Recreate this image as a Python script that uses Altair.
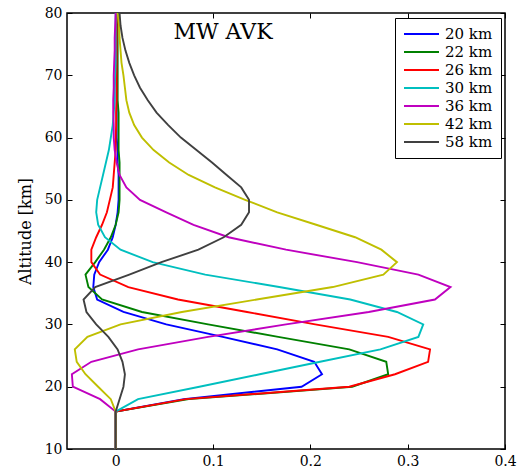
import altair as alt
import pandas as pd

# ---------------- data ----------------
altitude = [10, 12, 14, 16, 18, 20, 22, 24, 26, 28, 30, 32, 34, 36, 38, 40, 42, 44,
            46, 48, 50, 52, 54, 56, 58, 60, 62, 64, 66, 68, 70, 72, 74, 76, 78, 80]

series_names = ["20 km", "22 km", "26 km", "30 km", "36 km", "42 km", "58 km"]
series_colors = ["#0000FF", "#008000", "#FF0000", "#00BFBF", "#BF00BF", "#BFBF00", "#404040"]

avk_20 = [0, 0, 0, 0, 0.070, 0.191, 0.212, 0.204, 0.166, 0.110, 0.052, 0.008, -0.019,
          -0.023, -0.022, -0.017, -0.008, -0.003, 0.000, 0.002, 0.003, 0.003, 0.003,
          0.002, 0.002, 0.001, 0.001, 0.001, 0.001, 0.001, 0.0005, 0.0005, 0.0005,
          0.0005, 0.0005, 0.0005]
avk_22 = [0, 0, 0, 0, 0.075, 0.243, 0.280, 0.278, 0.240, 0.167, 0.095, 0.027, -0.014,
          -0.028, -0.031, -0.021, -0.012, -0.005, 0.000, 0.003, 0.004, 0.004, 0.004,
          0.004, 0.003, 0.003, 0.003, 0.003, 0.002, 0.002, 0.002, 0.002, 0.002, 0.002,
          0.002, 0.002]
avk_26 = [0, 0, 0, 0, 0.072, 0.240, 0.287, 0.321, 0.323, 0.280, 0.205, 0.135, 0.064,
          0.013, -0.016, -0.025, -0.025, -0.020, -0.014, -0.009, -0.006, -0.003, -0.002,
          -0.001, 0.000, 0.000, 0.0005, 0.0005, 0.001, 0.001, 0.001, 0.001, 0.001, 0.001,
          0.001, 0.001]
avk_30 = [0, 0, 0, 0, 0.023, 0.086, 0.148, 0.210, 0.272, 0.311, 0.316, 0.289, 0.241,
          0.168, 0.092, 0.038, 0.005, -0.011, -0.018, -0.020, -0.019, -0.016, -0.013,
          -0.010, -0.007, -0.005, -0.003, -0.002, -0.001, -0.001, -0.0005, 0, 0, 0, 0, 0]
avk_36 = [0, 0, 0, 0, -0.016, -0.044, -0.045, -0.025, 0.023, 0.095, 0.175, 0.260, 0.328,
          0.344, 0.311, 0.248, 0.175, 0.116, 0.080, 0.052, 0.025, 0.011, 0.004, 0.001,
          -0.001, -0.002, -0.002, -0.0025, -0.0025, -0.002, -0.002, -0.0015, -0.001,
          -0.001, -0.0005, 0]
avk_42 = [0, 0, 0, 0, -0.005, -0.018, -0.031, -0.040, -0.042, -0.029, 0.005, 0.068, 0.145,
          0.223, 0.275, 0.289, 0.273, 0.246, 0.206, 0.166, 0.133, 0.102, 0.075, 0.055,
          0.039, 0.027, 0.019, 0.014, 0.011, 0.0095, 0.008, 0.006, 0.005, 0.004, 0.0035,
          0.002]
avk_58 = [0, 0, 0, 0, 0.004, 0.008, 0.0095, 0.007, 0.002, -0.0075, -0.020, -0.030, -0.033,
          -0.021, 0.014, 0.047, 0.085, 0.111, 0.129, 0.137, 0.137, 0.129, 0.114, 0.099,
          0.083, 0.067, 0.054, 0.042, 0.033, 0.025, 0.019, 0.014, 0.010, 0.007, 0.005,
          0.004]

x_ticks = [0, 0.1, 0.2, 0.3, 0.4]
y_ticks = [10, 20, 30, 40, 50, 60, 70, 80]
plot_title = ["MW AVK"]

rows = []
for name, vals in zip(series_names, [avk_20, avk_22, avk_26, avk_30, avk_36, avk_42, avk_58]):
    for a, v in zip(altitude, vals):
        rows.append({"series": name, "alt": a, "avk": v})
df = pd.DataFrame(rows)

W, H = 438, 436
FONT = "DejaVu Serif"

lines = alt.Chart(df).mark_line(strokeWidth=1.9).encode(
    x=alt.X("avk:Q",
            scale=alt.Scale(domain=[-0.05, 0.4], nice=False, zero=False),
            axis=alt.Axis(values=x_ticks, format="~g", title=None, ticks=False, tickSize=0,
                          labelPadding=5, grid=True, gridDash=[5, H - 10],
                          gridColor="black", gridOpacity=1, gridWidth=1,
                          domain=False, labelFlush=False)),
    y=alt.Y("alt:Q",
            scale=alt.Scale(domain=[10, 80], nice=False, zero=False),
            axis=alt.Axis(values=y_ticks, title="Altitude [km]", ticks=False, tickSize=0,
                          labelPadding=5, grid=True, gridDash=[5, W - 10],
                          gridColor="black", gridOpacity=1, gridWidth=1,
                          domain=False, labelFlush=False, titlePadding=11)),
    color=alt.Color("series:N",
                    scale=alt.Scale(domain=series_names, range=series_colors),
                    legend=alt.Legend(orient="none", legendX=328, legendY=5, title=None,
                                      symbolType="stroke", symbolSize=1225,
                                      symbolStrokeWidth=1.9, labelFont=FONT,
                                      labelFontSize=15, labelColor="black",
                                      strokeColor="black", fillColor="white",
                                      padding=8, rowPadding=2, clipHeight=16,
                                      labelOffset=5, labelLimit=200)),
    order=alt.Order("alt:Q"),
)

title = alt.Chart(pd.DataFrame({"t": plot_title})).mark_text(
    font=FONT, fontSize=22, align="center", baseline="middle", color="black"
).encode(x=alt.value(156), y=alt.value(19), text="t:N")

chart = alt.layer(lines, title).properties(
    width=W, height=H,
    padding={"left": 67, "top": 13, "right": 13, "bottom": 21},
    autosize=alt.AutoSizeParams(type="none"),
).configure_view(
    stroke="black", strokeWidth=1.5
).configure_axis(
    labelFont=FONT, labelFontSize=14, labelColor="black",
    titleFont=FONT, titleFontSize=16, titleFontWeight="normal", titleColor="black",
)

chart.save("out.html", embed_options={"renderer": "svg", "actions": False})
